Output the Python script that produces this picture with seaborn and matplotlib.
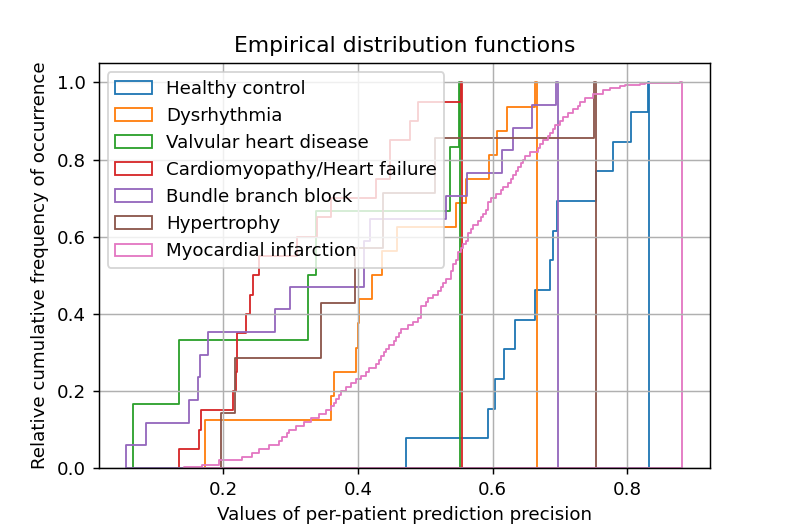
import matplotlib
matplotlib.use('Agg')
import matplotlib.pyplot as plt
import seaborn as sns

# per-patient precision values
labels = ['Healthy control', 'Dysrhythmia', 'Valvular heart disease',
          'Cardiomyopathy/Heart failure', 'Bundle branch block',
          'Hypertrophy', 'Myocardial infarction']

healthy = [0.472, 0.593, 0.605, 0.618, 0.633, 0.664, 0.685, 0.691, 0.697,
           0.754, 0.779, 0.806, 0.833]
dysrhythmia = [0.172, 0.172, 0.360, 0.365, 0.399, 0.401, 0.403, 0.423, 0.438,
               0.460, 0.547, 0.561, 0.596, 0.609, 0.623, 0.666]
valvular = [0.066, 0.136, 0.327, 0.340, 0.538, 0.552]
cardiomyopathy = [0.1345, 0.164, 0.167, 0.216, 0.219, 0.221, 0.221, 0.235,
                  0.240, 0.245, 0.254, 0.310, 0.340, 0.361, 0.428, 0.448,
                  0.448, 0.478, 0.490, 0.555]
bundle_branch = [0.0557, 0.0854, 0.149, 0.1617, 0.1657, 0.1805, 0.277, 0.2994,
                 0.411, 0.411, 0.421, 0.532, 0.563, 0.6154, 0.632, 0.660, 0.697]
hypertrophy = [0.197, 0.219, 0.345, 0.396, 0.438, 0.517, 0.754]

# myocardial infarction: many patients, stored as value + number of patients
infarction = [
    0.142, 0.171, 0.196, 0.229, 0.243, 0.256, 0.270, 0.284, 0.290, 0.295,
    0.301, 0.309, 0.320, 0.332, 0.342, 0.353, 0.361, 0.365, 0.369, 0.372,
    0.376, 0.384, 0.392, 0.400, 0.406, 0.413, 0.419, 0.427, 0.433, 0.437,
    0.441, 0.445, 0.449, 0.453, 0.458, 0.462, 0.467, 0.475, 0.483, 0.491,
    0.494, 0.496, 0.497, 0.502, 0.508, 0.515, 0.521, 0.525, 0.530, 0.534,
    0.538, 0.540, 0.542, 0.544, 0.547, 0.549, 0.552, 0.555, 0.558, 0.561,
    0.564, 0.566, 0.568, 0.574, 0.580, 0.585, 0.589, 0.592, 0.595, 0.597,
    0.600, 0.606, 0.614, 0.619, 0.623, 0.627, 0.631, 0.635, 0.638, 0.642,
    0.646, 0.650, 0.659, 0.668, 0.673, 0.678, 0.683, 0.689, 0.693, 0.697,
    0.702, 0.708, 0.714, 0.720, 0.727, 0.734, 0.741, 0.752, 0.766, 0.775,
    0.790, 0.800, 0.822, 0.830, 0.882,
]
infarction_counts = [
    1, 3, 6, 5, 5, 5, 5, 5, 5, 5,
    5, 5, 5, 5, 5, 5, 5, 5, 5, 5,
    5, 5, 5, 5, 5, 5, 5, 5, 5, 5,
    5, 5, 5, 5, 5, 5, 5, 5, 5, 5,
    5, 5, 5, 5, 5, 5, 5, 5, 5, 5,
    5, 5, 5, 5, 5, 5, 5, 5, 5, 5,
    5, 5, 5, 5, 5, 5, 5, 5, 5, 5,
    5, 5, 5, 5, 5, 5, 5, 5, 5, 5,
    5, 5, 5, 5, 5, 5, 5, 5, 5, 5,
    5, 5, 5, 5, 5, 5, 5, 5, 5, 3,
    2, 1, 2, 1, 1,
]

series = [healthy, dysrhythmia, valvular, cardiomyopathy, bundle_branch,
          hypertrophy, infarction]
weights = [None] * 6 + [infarction_counts]
colors = sns.color_palette('tab10', len(series))

fig, ax = plt.subplots(figsize=(6, 4))

# cumulative step histograms, one per class
for vals, w, name, col in zip(series, weights, labels, colors):
    sns.histplot(x=vals, weights=w, bins=200, stat='proportion',
                 cumulative=True, element='step', fill=True, color=col,
                 facecolor='none', edgecolor=col, linewidth=1.0,
                 label=name, ax=ax)

ax.set_xlim(0.0144, 0.9233)
ax.set_ylim(0, 1.05)
ax.grid(True)
ax.set_title('Empirical distribution functions')
ax.set_xlabel('Values of per-patient prediction precision')
ax.set_ylabel('Relative cumulative frequency of occurrence')
ax.legend(loc='upper left')

plt.savefig('out.png', dpi=131.5)
